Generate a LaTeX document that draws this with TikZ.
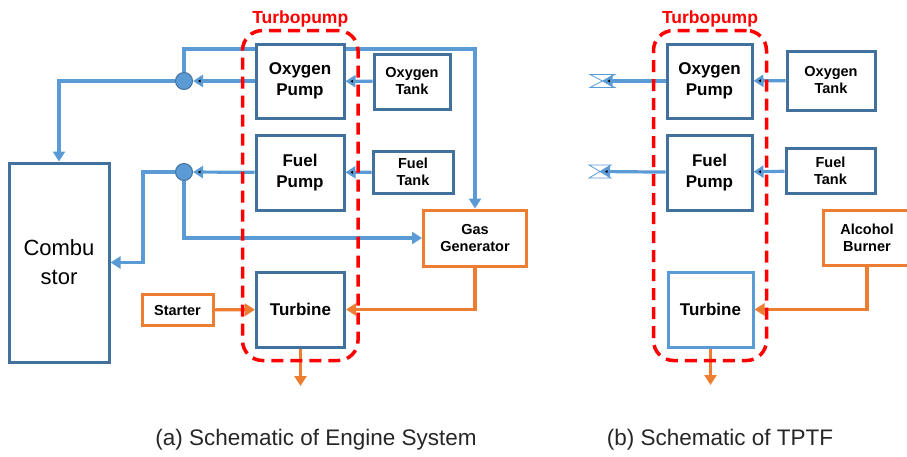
\documentclass[tikz,border=0pt]{standalone}
\usepackage{fontspec}
\setmainfont{Liberation Sans}
\usepackage{tikz}
\usetikzlibrary{arrows.meta,positioning,fit}
\definecolor{boxblue}{HTML}{41719C}
\definecolor{pipeblue}{HTML}{5B9BD5}
\definecolor{hotorange}{HTML}{ED7D31}
\definecolor{tpred}{HTML}{FF0000}
\pgfdeclarelayer{pipes}
\pgfsetlayers{pipes,main}

\begin{document}
\begin{tikzpicture}[x=1pt,y=-1pt,
	unit/.style={draw=boxblue,line width=3pt,fill=white,align=center,inner sep=0pt,
		font=\bfseries\fontsize{17}{21}\selectfont},
	small/.style={unit,font=\bfseries\fontsize{14.5}{17}\selectfont},
	hot/.style={small,draw=hotorange},
	flow/.style={draw=pipeblue,line width=3.2pt,-{Triangle[length=10pt,width=12pt]}},
	gas/.style={flow,draw=hotorange},
	junction/.style={circle,fill=pipeblue,draw=boxblue,line width=1pt,minimum size=17pt,inner sep=0pt},
	valve/.style={draw=pipeblue,line width=0.8pt},
	tpbox/.style={draw=tpred,line width=3.5pt,dash pattern=on 12pt off 7pt,rounded corners=20pt,inner sep=12pt},
	tplabel/.style={text=tpred,font=\bfseries\fontsize{17.5}{20}\selectfont,inner sep=0pt},
	caption/.style={font=\fontsize{22.5}{26}\selectfont,anchor=base,text=black!85}]
	\useasboundingbox (0,0) rectangle (907,456);

	% (a) engine system
	\node[unit,minimum width=100pt,minimum height=199pt,font=\fontsize{22}{29}\selectfont] (comb) at (59,262.5) {Combu\\stor};
	\node[unit,minimum width=88pt,minimum height=74pt] (oxpump) at (300,81) {Oxygen\\Pump};
	\node[unit,minimum width=88pt,minimum height=75pt] (fuelpump) at (300,172.5) {Fuel\\Pump};
	\node[unit,minimum width=88pt,minimum height=75pt] (turb) at (300.5,309.5) {Turbine};
	\node[small,minimum width=76pt,minimum height=55pt] (oxtank) at (412,81.5) {Oxygen\\Tank};
	\node[small,minimum width=80pt,minimum height=42pt] (fueltank) at (413,172) {Fuel\\Tank};
	\node[hot,minimum width=103pt,minimum height=56pt] (gasgen) at (475,238) {Gas\\Generator};
	\node[hot,minimum width=71pt,minimum height=31pt] (starter) at (177.5,310) {Starter};
	\node[junction] (j_1) at (184,81) {};
	\node[junction] (j_2) at (184,172) {};
	\coordinate (bus) at (475,49);
	\coordinate (fuelbend) at (143,172);
	\coordinate (exhaust_a) at (300.5,386);

	\begin{pgfonlayer}{pipes}
	\path[flow]
	(oxtank) edge (oxpump)
	(fueltank) edge (fuelpump)
	(oxpump) edge (j_1)
	(fuelpump) edge (j_2);
	\draw[flow] (j_1.west) -| (comb.north);
	\draw[flow] (j_1.north) |- (bus) -- (gasgen.north);
	\draw[flow] (j_2.west) -- (fuelbend) |- (comb.east);
	\draw[flow] (j_2.south) |- (gasgen.west);
	\draw[gas] (gasgen.south) |- (turb.east);
	\draw[gas] (starter) -- (turb);
	\draw[gas] (turb.south) -- (exhaust_a);
	\end{pgfonlayer}

	\node[tpbox,fit=(oxpump)(turb)] (tp_a) {};
	\node[tplabel,above=1pt of tp_a] (tplabel_a) {Turbopump};

	% (b) TPTF
	\node[unit,minimum width=85pt,minimum height=74pt] (oxpump2) at (709.5,81) {Oxygen\\Pump};
	\node[unit,minimum width=85pt,minimum height=75pt] (fuelpump2) at (709.5,172.5) {Fuel\\Pump};
	\node[unit,draw=pipeblue,minimum width=85pt,minimum height=75pt] (turb2) at (710.5,309.5) {Turbine};
	\node[small,minimum width=88pt,minimum height=59pt] (oxtank2) at (831,80.5) {Oxygen\\Tank};
	\node[small,minimum width=89pt,minimum height=45pt] (fueltank2) at (830.5,170.5) {Fuel\\Tank};
	\node[hot,minimum width=88pt,minimum height=55pt,text width=80pt] (burner) at (867,237.5) {Alcohol\\Burner};
	\coordinate (valve_1) at (602.5,81);
	\coordinate (valve_2) at (600,171.5);
	\coordinate (exhaust_b) at (710.5,385);

	\begin{pgfonlayer}{pipes}
	\path[flow]
	(oxtank2) edge (oxpump2)
	(fueltank2) edge (fuelpump2)
	(oxpump2) edge (valve_1)
	(fuelpump2) edge (valve_2);
	\draw[gas] (burner.south) |- (turb2.east);
	\draw[gas] (turb2.south) -- (exhaust_b);
	\end{pgfonlayer}
	\draw[valve] (valve_1) ++(-12.5,-6.5) -- ++(25,0) -- ++(-25,13) -- ++(25,0) -- cycle;
	\draw[valve] (valve_2) ++(-11,-6.5) -- ++(22,0) -- ++(-22,13) -- ++(22,0) -- cycle;

	\node[tpbox,fit=(oxpump2)(turb2)] (tp_b) {};
	\node[tplabel,above=1pt of tp_b] (tplabel_b) {Turbopump};

	\node[caption] (cap_a) at (316,445) {(a) Schematic of Engine System};
	\node[caption] (cap_b) at (720,445) {(b) Schematic of TPTF};
\end{tikzpicture}
\end{document}
